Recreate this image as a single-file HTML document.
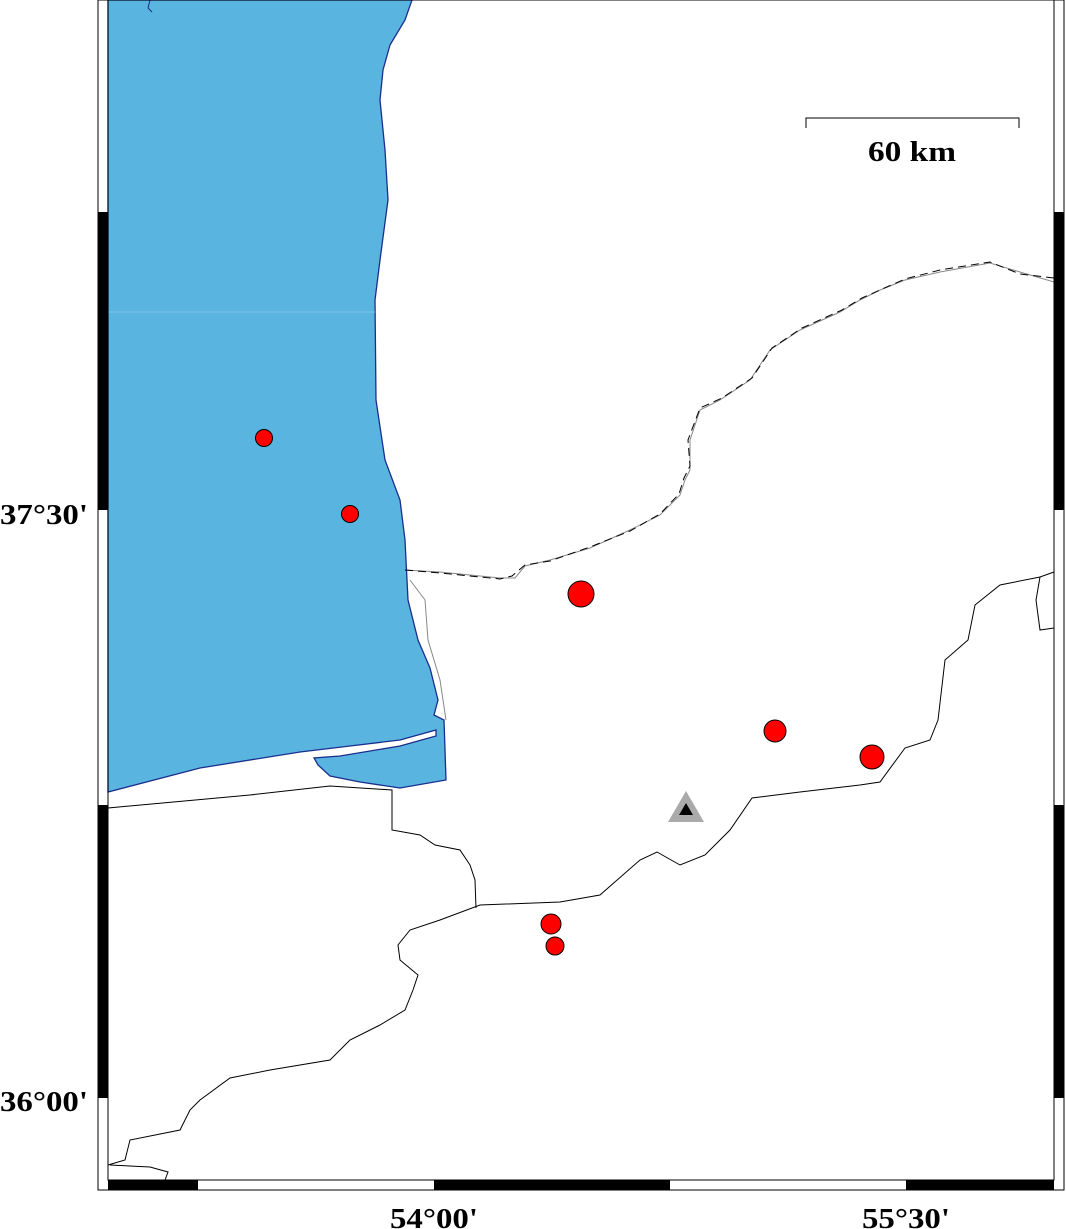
<!DOCTYPE html>
<html><head><meta charset="utf-8"><style>
html,body{margin:0;padding:0;background:#fff;}
svg{display:block;}
text{font-family:"Liberation Serif",serif;font-weight:bold;}
</style></head><body>
<svg width="1066" height="1229" viewBox="0 0 1066 1229" xmlns="http://www.w3.org/2000/svg">
<rect width="1066" height="1229" fill="#fff"/>
<path d="M108,0 L412,0 L405,20 L390,45 L383,70 L380,100 L385,150 L388,200 L380,260 L375,300 L376,400 L385,460 L400,500 L405,540 L408,600 L418,640 L430,668 L438,700 L434,715 L444,720 L446,780 L400,788 L360,782 L330,776 L318,765 L314,758 L340,756 L400,746 L436,736 L436,730 L400,740 L350,746 L300,752 L200,768 L108,792 Z" fill="#5ab4e0" stroke="#1a2e8c" stroke-width="1.3"/>
<path d="M108,312 L375,312" stroke="#7cc4ea" stroke-width="1"/>
<path d="M150,0 L148,8 L152,12" fill="none" stroke="#1a2e8c" stroke-width="1"/>
<g fill="none" stroke="#000" stroke-width="1">
<path d="M108,808 L250,795 L330,786 L392,790 L392,830 L420,835 L435,845 L460,850 L470,865 L475,880 L476,908"/>
<path d="M108,1165 L125,1160 L130,1140 L180,1130 L190,1110 L200,1100 L230,1078 L270,1070 L330,1060 L350,1040 L380,1025 L405,1010 L413,990 L418,975 L400,960 L398,945 L410,930 L440,920 L480,905 L560,902 L600,895 L640,860 L657,852 L680,865 L705,855 L730,830 L752,798 L800,792 L860,785 L880,782 L905,748 L930,740 L938,720 L945,660 L968,640 L975,605 L1000,585 L1040,577 L1054,572"/>
<path d="M1040,577 L1036,600 L1040,630 L1054,628"/>
<path d="M110,1165 L150,1167 L168,1172 L165,1180"/>
<path d="M405,570 L440,572 L500,578 L515,578 L525,566 L550,560 L590,548 L630,530 L660,515 L680,495 L685,480 L690,470 L690,440 L700,410 L720,400 L750,380 L770,350 L800,330 L840,312 L860,300 L880,290 L905,280 L940,272 L990,263 L1020,272 L1054,282" stroke="#888"/>
<path d="M405,570 L440,573 L500,579 L512,576 L525,565 L550,561 L590,547 L630,531 L660,514 L679,494 L684,478 L690,466 L688,440 L700,408 L722,398 L752,378 L772,348 L802,328 L842,310 L862,298 L880,290 L905,279 L940,270 L990,262 L1020,274 L1054,278" stroke-dasharray="8,5"/>
<path d="M410,580 L425,600 L428,640 L440,680 L446,720" stroke="#888"/>
</g>
<g fill="#f00" stroke="#000" stroke-width="1">
<circle cx="264" cy="438" r="8.5"/>
<circle cx="350" cy="514" r="8.5"/>
<circle cx="581" cy="594" r="13"/>
<circle cx="775" cy="731" r="11"/>
<circle cx="872" cy="757" r="12"/>
<circle cx="551" cy="924" r="10"/>
<circle cx="555" cy="946" r="9"/>
</g>
<polygon points="686,791 668,822 704,822" fill="#aaa"/>
<polygon points="686,803 679,815 693,815" fill="#000"/>
<path d="M806,128 L806,118 L1019,118 L1019,128" fill="none" stroke="#000" stroke-width="1"/>
<text x="868" y="161" font-size="28" textLength="88" lengthAdjust="spacingAndGlyphs">60 km</text>
<rect x="98" y="0" width="966" height="1190" fill="none" stroke="#000" stroke-width="1"/>
<rect x="108" y="0" width="946" height="1180" fill="none" stroke="#000" stroke-width="1"/>
<g fill="#000">
<rect x="98" y="212" width="10" height="298"/>
<rect x="98" y="805" width="10" height="293"/>
<rect x="1054" y="212" width="10" height="298"/>
<rect x="1054" y="805" width="10" height="293"/>
<rect x="108" y="1180" width="90" height="10"/>
<rect x="434" y="1180" width="236" height="10"/>
<rect x="906" y="1180" width="148" height="10"/>
</g>
<text x="0" y="524" font-size="29" textLength="88" lengthAdjust="spacingAndGlyphs">37°30'</text>
<text x="0" y="1111" font-size="29" textLength="88" lengthAdjust="spacingAndGlyphs">36°00'</text>
<text x="390" y="1228" font-size="29" textLength="88" lengthAdjust="spacingAndGlyphs">54°00'</text>
<text x="862" y="1228" font-size="29" textLength="88" lengthAdjust="spacingAndGlyphs">55°30'</text>
</svg>
</body></html>
